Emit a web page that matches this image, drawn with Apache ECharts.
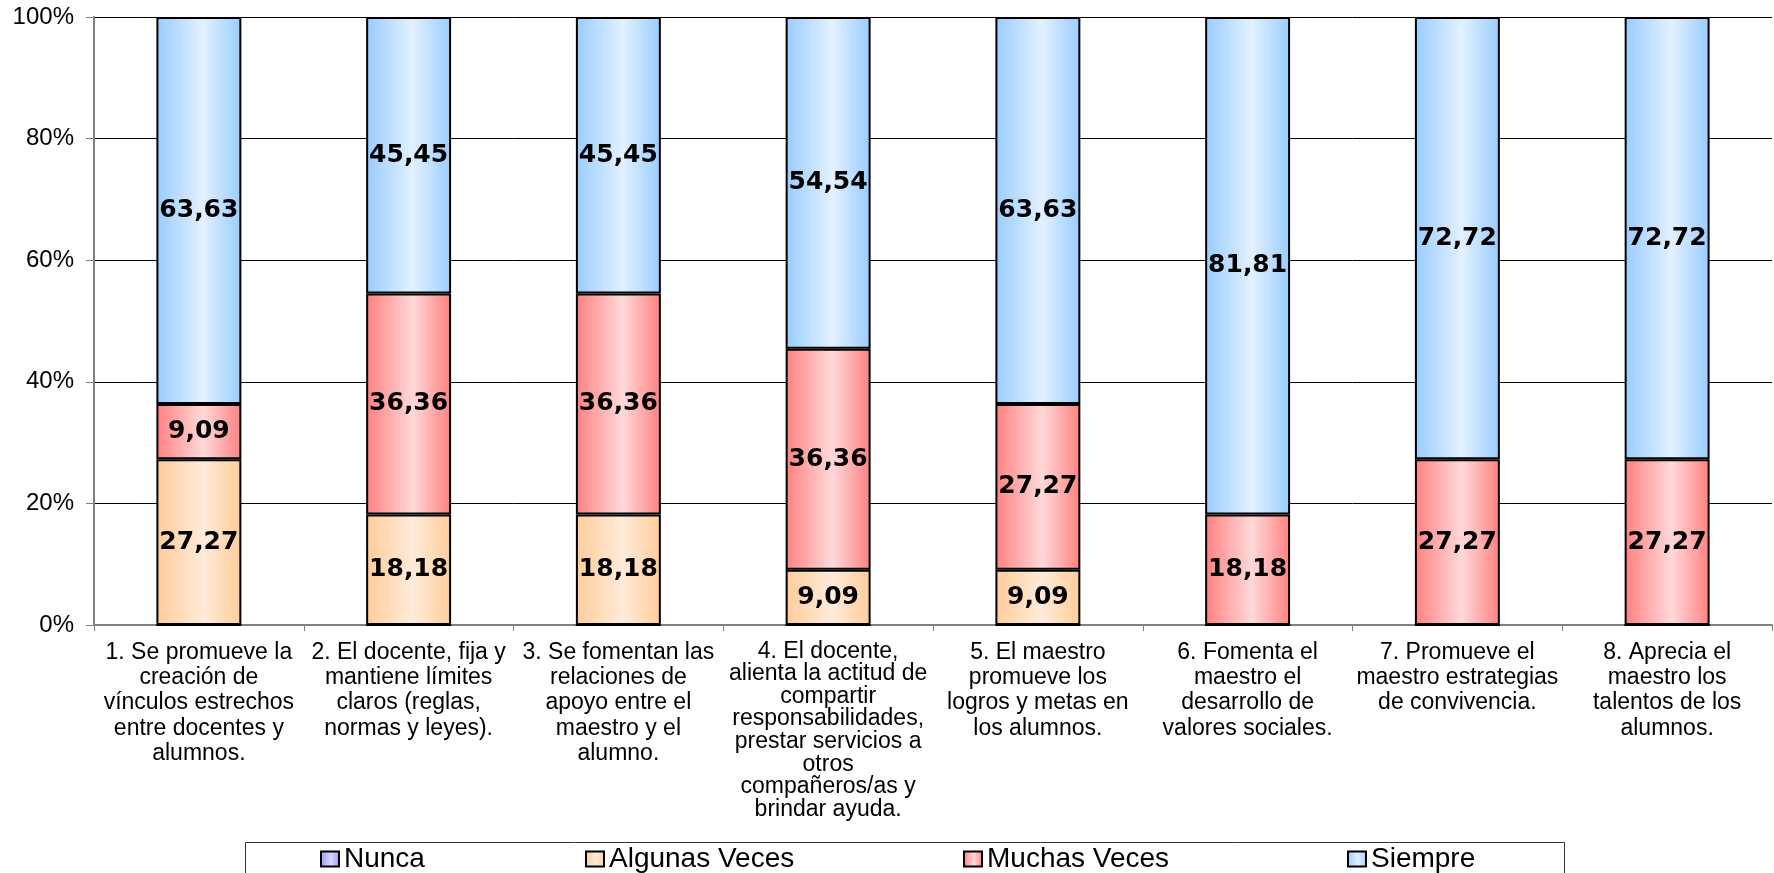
<!DOCTYPE html>
<html>
<head>
<meta charset="utf-8">
<script src="https://cdn.jsdelivr.net/npm/echarts@6/dist/echarts.min.js"></script>
<style>
  html, body { margin: 0; padding: 0; background: #fff; }
  #chart { width: 1774px; height: 873px; }
</style>
</head>
<body>
<div id="chart"></div>
<script>
// Survey items (x axis), one per column
const categories = [
  '1. Se promueve la\ncreación de\nvínculos estrechos\nentre docentes y\nalumnos.',
  '2. El docente, fija y\nmantiene límites\nclaros (reglas,\nnormas y leyes).',
  '3. Se fomentan las\nrelaciones de\napoyo entre el\nmaestro y el\nalumno.',
  '4. El docente,\nalienta la actitud de\ncompartir\nresponsabilidades,\nprestar servicios a\notros\ncompañeros/as y\nbrindar ayuda.',
  '5. El maestro\npromueve los\nlogros y metas en\nlos alumnos.',
  '6. Fomenta el\nmaestro el\ndesarrollo de\nvalores sociales.',
  '7. Promueve el\nmaestro estrategias\nde convivencia.',
  '8. Aprecia el\nmaestro los\ntalentos de los\nalumnos.'
];

// Percentages per answer
const nunca         = [0, 0, 0, 0, 0, 0, 0, 0];
const algunasVeces  = [27.27, 18.18, 18.18, 9.09, 9.09, 0, 0, 0];
const muchasVeces   = [9.09, 36.36, 36.36, 36.36, 27.27, 18.18, 27.27, 27.27];
const siempre       = [63.63, 45.45, 45.45, 54.54, 63.63, 81.81, 72.72, 72.72];

const seriesNames = ['Nunca', 'Algunas Veces', 'Muchas Veces', 'Siempre'];
const yTicks = [0, 20, 40, 60, 80, 100];

const FONT = 'Liberation Sans, Arial, sans-serif';

function shade(edge, mid) {
  return new echarts.graphic.LinearGradient(0, 0, 1, 0, [
    { offset: 0, color: edge },
    { offset: 0.55, color: mid },
    { offset: 1, color: edge }
  ]);
}

function makeSeries(name, data, edge, mid) {
  return {
    name: name,
    type: 'bar',
    stack: 'total',
    data: data,
    barWidth: '40.5%',
    itemStyle: { color: shade(edge, mid), borderColor: '#000', borderWidth: 2 },
    label: {
      show: true,
      position: 'inside',
      color: '#000',
      fontFamily: 'DejaVu Sans, sans-serif',
      fontWeight: 'bold',
      fontSize: 25,
      formatter: p => p.value ? p.value.toFixed(2).replace('.', ',') : ''
    },
    emphasis: { disabled: true }
  };
}

// one legend block per entry, laid out across the framed box
const legendLefts = [320, 585, 963, 1347];
const legends = seriesNames.map((name, i) => ({
  data: [name],
  left: legendLefts[i],
  top: 845,
  padding: 0,
  icon: 'rect',
  itemWidth: 18,
  itemHeight: 15,
  selectedMode: false,
  textStyle: { fontFamily: FONT, fontSize: 28, lineHeight: 28, color: '#000' }
}));

const chart = echarts.init(document.getElementById('chart'), null, { renderer: 'canvas' });

chart.setOption({
  animation: false,
  backgroundColor: '#fff',
  grid: { left: 94, right: 2, top: 17, bottom: 248, containLabel: false },
  legend: legends,
  graphic: [{
    type: 'rect',
    left: 243,
    top: 840,
    shape: { width: 1319, height: 60 },
    style: { fill: 'none', stroke: '#333', lineWidth: 1 },
    silent: true
  }],
  xAxis: {
    type: 'category',
    data: categories,
    axisLine: { lineStyle: { color: '#808080', width: 2 } },
    axisTick: { show: true, length: 6, lineStyle: { color: '#808080', width: 1 } },
    axisLabel: {
      interval: 0,
      margin: 15,
      color: '#000',
      fontFamily: FONT,
      fontSize: 23,
      lineHeight: 25.2,
      align: 'center',
      formatter: (value, idx) => idx === 3 ? '{t|' + value + '}' : value,
      rich: {
        t: { fontFamily: FONT, fontSize: 23, lineHeight: 22.6, color: '#000', align: 'center' }
      }
    }
  },
  yAxis: {
    type: 'value',
    min: yTicks[0],
    max: yTicks[yTicks.length - 1],
    interval: yTicks[1] - yTicks[0],
    axisLine: { show: true, lineStyle: { color: '#808080', width: 2 } },
    axisTick: { show: true, length: 8, lineStyle: { color: '#808080' } },
    splitLine: { show: true, lineStyle: { color: '#000', width: 1 } },
    axisLabel: {
      margin: 20,
      color: '#000',
      fontFamily: FONT,
      fontSize: 24,
      formatter: '{value}%'
    }
  },
  series: [
    makeSeries(seriesNames[0], nunca, '#9999FF', '#D6D6FF'),
    makeSeries(seriesNames[1], algunasVeces, '#FFCC99', '#FFEBDA'),
    makeSeries(seriesNames[2], muchasVeces, '#FF8080', '#FFD9D9'),
    makeSeries(seriesNames[3], siempre, '#99CCFF', '#E2F1FF')
  ]
});
</script>
</body>
</html>
